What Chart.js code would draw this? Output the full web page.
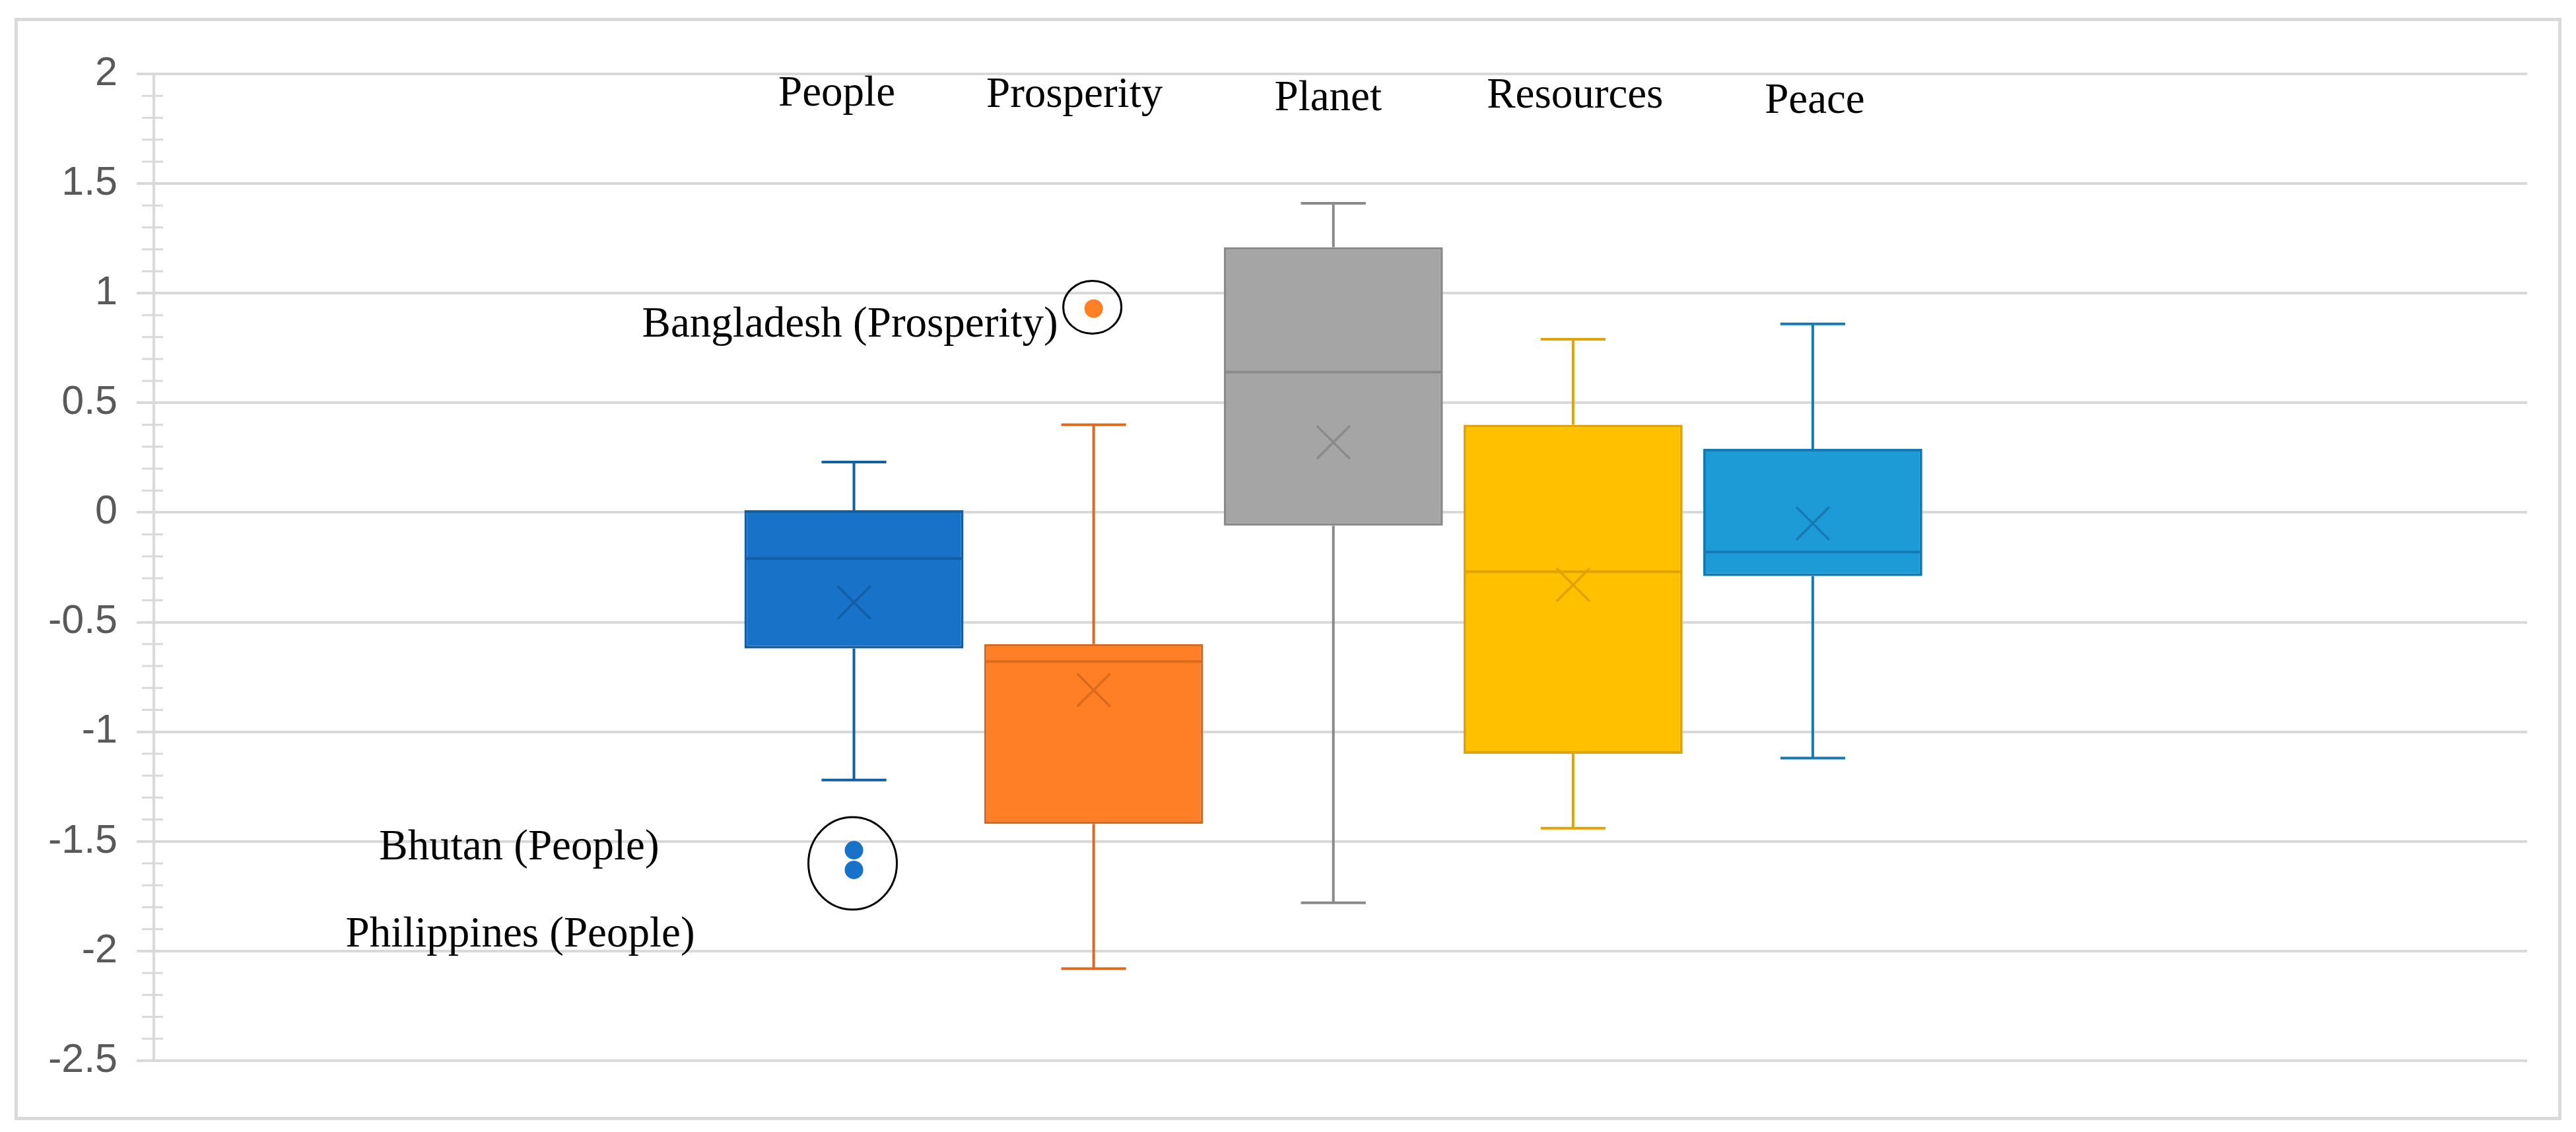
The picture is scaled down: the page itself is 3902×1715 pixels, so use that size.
<!DOCTYPE html>
<html>
<head>
<meta charset="utf-8">
<title>Box plot by dimension</title>
<script src="https://cdn.jsdelivr.net/npm/chart.js@4/dist/chart.umd.min.js"></script>
<style>
    html, body { margin: 0; padding: 0; background: #fff; }
    canvas { display: block; }
</style>
</head>
<body>
<canvas id="myChart" width="3902" height="1715"></canvas>
<script>
var CATEGORIES = ['People', 'Prosperity', 'Planet', 'Resources', 'Peace'];
var WHISKER_MIN = [-1.22, -2.08, -1.78, -1.44, -1.12];
var Q1 = [-0.62, -1.42, -0.06, -1.10, -0.29];
var MEDIAN = [-0.21, -0.68, 0.64, -0.27, -0.18];
var Q3 = [0.01, -0.60, 1.21, 0.40, 0.29];
var WHISKER_MAX = [0.23, 0.40, 1.41, 0.79, 0.86];
var MEAN = [-0.41, -0.81, 0.32, -0.33, -0.05];
var OUTLIERS = [[-1.54, -1.63], [0.93], [], [], []];
var OUTLIER_NAMES = [['Bhutan (People)', 'Philippines (People)'], ['Bangladesh (Prosperity)'], [], [], []];
var Y_MIN = -2.5, Y_MAX = 2, Y_STEP = 0.5, Y_MINOR_STEP = 0.1;
// the single (unlabelled) category sits a little left of the middle of the x range
var GROUP_X = 0.497;

(function () {
    var FILL = ['#1772C8', '#FE7F26', '#A5A5A5', '#FFC000', '#1D9BD7'],
        LINE = ['#135FA6', '#DC6A1E', '#8A8A8A', '#E0A300', '#167AB2'],
        GRID = '#D9D9D9',
        SERIF = '65px "Liberation Serif", "Times New Roman", serif';

    // hand-placed text of the original figure (label value on y, px offsets)
    var TOP_LABEL_Y = [1.857, 1.848, 1.833, 1.845, 1.821],
        TOP_LABEL_DX = [-26, -29, -8, 3, 3],
        OUTLIER_LABEL_OFFSET = [[[-295, 14], [-241, 116]], [[-54, 43]], [], [], []],
        RINGS = [
            { series: 0, dx: -2, dy: 5, rx: 67, ry: 70 },
            { series: 1, dx: -2, dy: -2, rx: 44, ry: 40 }
        ];

    function line(ctx, x1, y1, x2, y2) {
        ctx.beginPath();
        ctx.moveTo(x1, y1);
        ctx.lineTo(x2, y2);
        ctx.stroke();
    }

    var frame = {
        id: 'frame',
        beforeDraw: function (chart) {
            var ctx = chart.ctx;
            ctx.save();
            ctx.fillStyle = '#fff';
            ctx.fillRect(0, 0, chart.width, chart.height);
            ctx.strokeStyle = GRID;
            ctx.lineWidth = 5;
            ctx.strokeRect(24.5, 29.5, chart.width - 49, chart.height - 50);
            ctx.restore();
        }
    };

    var minorTicks = {
        id: 'minorTicks',
        beforeDatasetsDraw: function (chart) {
            var ctx = chart.ctx,
                y = chart.scales.y,
                ax = chart.chartArea.left,
                n = Math.round((Y_MAX - Y_MIN) / Y_MINOR_STEP),
                k, py;

            ctx.save();
            ctx.strokeStyle = GRID;
            ctx.lineWidth = 3;
            for (k = 1; k < n; k++) {
                if (k % 5 === 0) continue;
                py = y.getPixelForValue(Y_MIN + k * Y_MINOR_STEP);
                line(ctx, ax - 18, py, ax + 14, py);
            }
            ctx.restore();
        }
    };

    var boxParts = {
        id: 'boxParts',
        afterDatasetsDraw: function (chart) {
            var ctx = chart.ctx,
                y = chart.scales.y;

            chart.data.datasets.forEach(function (ds, i) {
                var bar = chart.getDatasetMeta(i).data[0],
                    x = bar.x,
                    half = bar.width / 2,
                    cap = bar.width * 0.148,
                    yMax = y.getPixelForValue(WHISKER_MAX[i]),
                    yMin = y.getPixelForValue(WHISKER_MIN[i]),
                    yMed = y.getPixelForValue(MEDIAN[i]),
                    yMean = y.getPixelForValue(MEAN[i]),
                    m = 25;

                ctx.save();
                ctx.strokeStyle = LINE[i];
                ctx.lineWidth = 4;
                line(ctx, x, y.getPixelForValue(Q3[i]), x, yMax);
                line(ctx, x, y.getPixelForValue(Q1[i]), x, yMin);
                line(ctx, x - cap, yMax, x + cap, yMax);
                line(ctx, x - cap, yMin, x + cap, yMin);
                line(ctx, x - half + 2, yMed, x + half - 2, yMed);

                ctx.lineWidth = 3.5;
                line(ctx, x - m, yMean - m, x + m, yMean + m);
                line(ctx, x - m, yMean + m, x + m, yMean - m);

                ctx.fillStyle = FILL[i];
                OUTLIERS[i].forEach(function (v) {
                    ctx.beginPath();
                    ctx.arc(x, y.getPixelForValue(v), 14, 0, Math.PI * 2);
                    ctx.fill();
                });
                ctx.restore();
            });
        }
    };

    var annotations = {
        id: 'annotations',
        afterDraw: function (chart) {
            var ctx = chart.ctx,
                y = chart.scales.y;

            ctx.save();
            ctx.fillStyle = '#000';
            ctx.font = SERIF;
            ctx.textBaseline = 'alphabetic';

            ctx.textAlign = 'center';
            CATEGORIES.forEach(function (name, i) {
                var bar = chart.getDatasetMeta(i).data[0];
                ctx.fillText(name, bar.x + TOP_LABEL_DX[i], y.getPixelForValue(TOP_LABEL_Y[i]));
            });

            ctx.textAlign = 'right';
            OUTLIERS.forEach(function (list, i) {
                var bar = chart.getDatasetMeta(i).data[0];
                list.forEach(function (v, j) {
                    var off = OUTLIER_LABEL_OFFSET[i][j];
                    ctx.fillText(OUTLIER_NAMES[i][j], bar.x + off[0], y.getPixelForValue(v) + off[1]);
                });
            });

            ctx.strokeStyle = '#000';
            ctx.lineWidth = 3;
            RINGS.forEach(function (r) {
                var list = OUTLIERS[r.series],
                    bar = chart.getDatasetMeta(r.series).data[0],
                    cy = 0;
                list.forEach(function (v) { cy += y.getPixelForValue(v); });
                cy /= list.length;
                ctx.beginPath();
                ctx.ellipse(bar.x + r.dx, cy + r.dy, r.rx, r.ry, 0, 0, Math.PI * 2);
                ctx.stroke();
            });
            ctx.restore();
        }
    };

    new Chart(document.getElementById('myChart').getContext('2d'), {
        type: 'bar',
        data: {
            datasets: CATEGORIES.map(function (name, i) {
                return {
                    label: name,
                    data: [{ x: GROUP_X, y: [Q1[i], Q3[i]] }],
                    backgroundColor: FILL[i],
                    borderColor: LINE[i],
                    borderWidth: 4,
                    borderSkipped: false,
                    categoryPercentage: 0.505,
                    barPercentage: 0.914
                };
            })
        },
        options: {
            responsive: false,
            animation: false,
            devicePixelRatio: 1,
            layout: { padding: { left: 0, top: 112, right: 74, bottom: 108 } },
            plugins: {
                legend: { display: false },
                tooltip: { enabled: false }
            },
            scales: {
                x: {
                    type: 'linear',
                    min: 0,
                    max: 1,
                    display: false,
                    // no x ticks, so the bar group is sized on the whole plot width
                    afterBuildTicks: function (scale) { scale.ticks = []; }
                },
                y: {
                    min: Y_MIN,
                    max: Y_MAX,
                    ticks: {
                        stepSize: Y_STEP,
                        color: '#595959',
                        padding: 29,
                        font: { family: '"Liberation Sans", Arial, sans-serif', size: 61 },
                        callback: function (v) { return String(v); }
                    },
                    grid: { color: GRID, lineWidth: 4, tickLength: 26, tickColor: GRID },
                    border: { color: GRID, width: 4 },
                    afterFit: function (scale) { scale.width = 233; }
                }
            }
        },
        plugins: [frame, minorTicks, boxParts, annotations]
    });
})();
</script>
</body>
</html>
